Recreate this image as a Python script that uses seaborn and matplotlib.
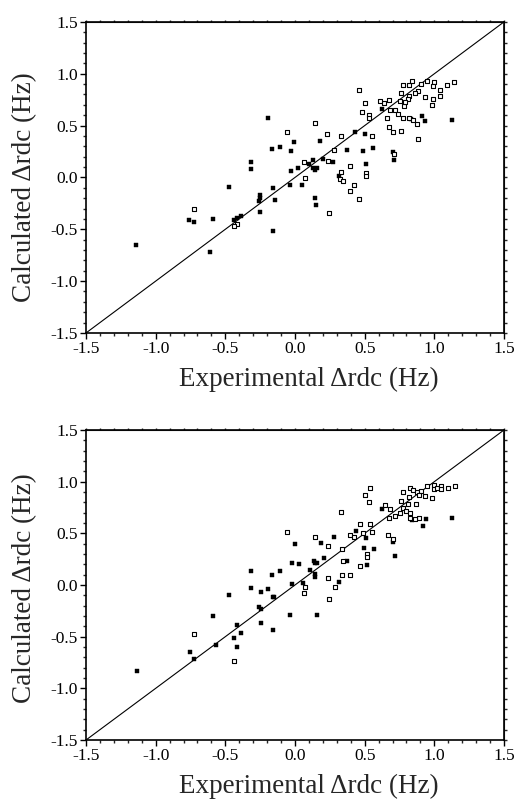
import matplotlib
matplotlib.use("Agg")
import matplotlib.pyplot as plt
import pandas as pd
import seaborn as sns
from matplotlib.ticker import MultipleLocator, FormatStrFormatter

# Upper panel: filled squares
top_filled_x = [-0.196, 0.622, 0.433, 0.502, 0.833, 0.911, 0.933, 1.124, 0.562, 0.490,
                0.703, 0.710, 0.512, 0.371, 0.275, 0.203, 0.182, -0.007, -0.026, -0.108,
                -0.167, 0.132, 0.103, 0.160, 0.141, 0.127, 0.022, -0.029, 0.313, -0.318,
                -0.318, -0.038, 0.053, 0.144, 0.153, -0.158, -0.146, -0.249, -0.253, -0.258,
                -0.249, -0.158, -0.476, -0.438, -0.419, -0.388, -0.589, -0.758, -0.727, -0.612,
                -1.139]
top_filled_y = [0.577, 0.661, 0.442, 0.416, 0.565, 0.590, 0.545, 0.558, 0.287, 0.252,
                0.245, 0.165, 0.132, 0.268, 0.152, 0.177, 0.352, 0.339, 0.252, 0.294,
                0.274, 0.165, 0.126, 0.094, 0.068, 0.094, 0.094, 0.065, 0.010, 0.152,
                0.084, -0.077, -0.071, -0.197, -0.268, -0.100, -0.216, -0.168, -0.197, -0.229,
                -0.329, -0.516, -0.090, -0.410, -0.390, -0.371, -0.403, -0.410, -0.432, -0.723,
                -0.648]

# Upper panel: open squares
top_open_x = [0.462, 0.773, 0.821, 0.842, 0.902, 0.945, 0.998, 0.993, 1.093, 1.144,
              1.043, 1.043, 0.993, 0.981, 0.931, 0.883, 0.864, 0.821, 0.811, 0.763,
              0.754, 0.782, 0.792, 0.718, 0.682, 0.672, 0.639, 0.610, 0.502, 0.481,
              0.533, 0.529, 0.660, 0.742, 0.773, 0.821, 0.849, 0.873, 0.672, 0.706,
              0.763, 0.883, 0.553, 0.333, 0.232, 0.144, -0.057, 0.282, 0.065, 0.234,
              0.395, 0.711, 0.333, 0.510, 0.510, 0.074, 0.323, 0.344, 0.423, 0.395,
              0.462, 0.242, -0.419, -0.438, -0.727]
top_open_y = [0.842, 0.887, 0.894, 0.926, 0.900, 0.926, 0.919, 0.881, 0.894, 0.919,
              0.842, 0.790, 0.752, 0.694, 0.777, 0.835, 0.816, 0.790, 0.758, 0.810,
              0.739, 0.687, 0.732, 0.655, 0.648, 0.745, 0.719, 0.739, 0.719, 0.629,
              0.603, 0.571, 0.571, 0.610, 0.577, 0.577, 0.558, 0.513, 0.487, 0.435,
              0.448, 0.371, 0.397, 0.403, 0.423, 0.526, 0.439, 0.268, 0.152, 0.158,
              0.113, 0.229, 0.048, 0.042, 0.016, -0.010, -0.019, -0.032, -0.074, -0.135,
              -0.210, -0.342, -0.448, -0.465, -0.303]

# Lower panel: filled squares
bot_filled_x = [0.622, 0.438, 0.507, 0.280, 0.187, -0.002, 0.498, 0.565, 0.706, 0.718,
                0.837, 0.938, 0.916, 1.127, 0.371, 0.519, 0.206, 0.136, 0.160, 0.141,
                -0.024, 0.026, 0.105, 0.146, 0.146, -0.105, -0.163, -0.313, -0.313, -0.194,
                -0.024, 0.055, 0.316, -0.244, -0.148, -0.160, -0.256, -0.242, -0.244, -0.156,
                -0.036, 0.156, -0.474, -0.586, -0.414, -0.385, -0.435, -0.414, -0.567, -0.754,
                -0.722, -1.134]
bot_filled_y = [0.739, 0.523, 0.455, 0.468, 0.403, 0.400, 0.355, 0.345, 0.416, 0.281,
                0.629, 0.639, 0.571, 0.645, 0.229, 0.197, 0.258, 0.235, 0.216, 0.210,
                0.210, 0.203, 0.145, 0.106, 0.074, 0.139, 0.100, 0.132, -0.029, -0.039,
                0.010, 0.016, 0.029, -0.068, -0.119, -0.112, -0.216, -0.235, -0.371, -0.435,
                -0.287, -0.287, -0.094, -0.300, -0.390, -0.464, -0.510, -0.600, -0.581, -0.645,
                -0.719, -0.835]

# Lower panel: open squares
bot_open_x = [0.536, 0.505, 0.529, 0.328, 0.778, 0.825, 0.849, 0.878, 0.907, 0.945,
              0.998, 0.998, 1.017, 1.045, 1.045, 1.098, 1.148, 0.888, 0.935, 0.985,
              0.816, 0.758, 0.866, 0.811, 0.778, 0.797, 0.754, 0.825, 0.720, 0.682,
              0.648, 0.677, 0.825, 0.888, 0.859, 0.467, 0.536, 0.395, 0.423, 0.486,
              0.555, 0.667, 0.706, 0.146, 0.237, 0.337, -0.055, 0.519, 0.514, 0.467,
              0.347, 0.337, 0.395, 0.237, 0.074, 0.287, 0.065, 0.246, -0.722, -0.435]
bot_open_y = [0.935, 0.874, 0.800, 0.703, 0.897, 0.935, 0.916, 0.900, 0.910, 0.958,
              0.965, 0.929, 0.935, 0.955, 0.929, 0.935, 0.955, 0.868, 0.858, 0.839,
              0.848, 0.816, 0.781, 0.784, 0.745, 0.713, 0.694, 0.694, 0.668, 0.739,
              0.777, 0.648, 0.648, 0.645, 0.635, 0.590, 0.590, 0.484, 0.461, 0.500,
              0.516, 0.481, 0.448, 0.468, 0.381, 0.345, 0.510, 0.300, 0.268, 0.187,
              0.232, 0.100, 0.100, 0.068, -0.023, -0.019, -0.077, -0.132, -0.477, -0.739]

lim = (-1.5, 1.5)
xlabel = "Experimental \u0394rdc (Hz)"
ylabel = "Calculated \u0394rdc (Hz)"

sns.set_style("ticks")
plt.rcParams["font.family"] = ["Liberation Serif", "DejaVu Serif"]
plt.rcParams["axes.unicode_minus"] = False


def draw_panel(ax, fx, fy, ox, oy, xlab_y, ylab_y):
    filled = pd.DataFrame({"x": fx, "y": fy})
    hollow = pd.DataFrame({"x": ox, "y": oy})

    ax.axline((0, 0), slope=1, color="black", lw=0.8, zorder=1)
    sns.scatterplot(data=hollow, x="x", y="y", marker="s", s=10,
                    facecolor="white", edgecolor="black", linewidth=0.8,
                    ax=ax, zorder=3)
    sns.scatterplot(data=filled, x="x", y="y", marker="s", s=11,
                    color="black", edgecolor="black", linewidth=0.3,
                    ax=ax, zorder=2)

    ax.set_xlim(lim)
    ax.set_ylim(lim)
    for axis in (ax.xaxis, ax.yaxis):
        axis.set_major_locator(MultipleLocator(0.5))
        axis.set_minor_locator(MultipleLocator(0.1))
        axis.set_major_formatter(FormatStrFormatter("%.1f"))
    ax.tick_params(which="major", direction="out", length=4, width=1,
                   labelsize=12.5, pad=2, colors="black")
    ax.tick_params(which="minor", direction="out", length=2.2, width=1)
    for sp in ax.spines.values():
        sp.set_visible(True)
        sp.set_linewidth(1.2)
        sp.set_color("black")

    # short ticks on the top and right edges
    top = ax.secondary_xaxis("top")
    right = ax.secondary_yaxis("right")
    for sec, axis in ((top, top.xaxis), (right, right.yaxis)):
        axis.set_major_locator(MultipleLocator(0.5))
        axis.set_minor_locator(MultipleLocator(0.1))
        sec.tick_params(which="both", direction="out", length=1.8, width=1,
                        labeltop=False, labelright=False)

    ax.set_xlabel(xlabel, fontsize=19.5)
    ax.set_ylabel(ylabel, fontsize=19.5)
    ax.xaxis.set_label_coords(0.533, xlab_y)
    ax.yaxis.set_label_coords(-0.118, ylab_y)


fig = plt.figure(figsize=(5.2, 8.0), dpi=100)
ax1 = fig.add_axes([0.1654, 0.5838, 0.8038, 0.3888])
ax2 = fig.add_axes([0.1654, 0.075, 0.8038, 0.3875])

draw_panel(ax1, top_filled_x, top_filled_y, top_open_x, top_open_y, -0.108, 0.47)
draw_panel(ax2, bot_filled_x, bot_filled_y, bot_open_x, bot_open_y, -0.108, 0.49)

fig.savefig("out.png", dpi=100, facecolor="white")
